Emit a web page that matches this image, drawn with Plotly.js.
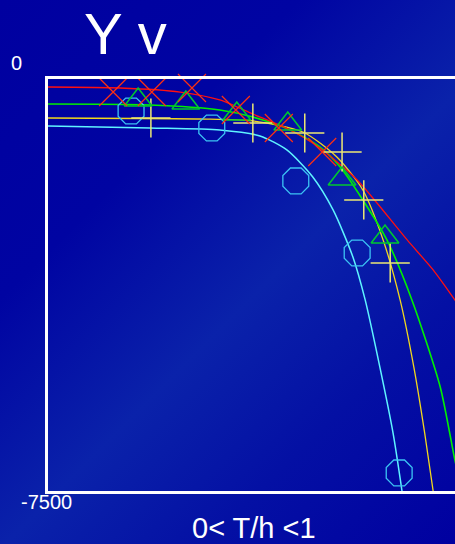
<!DOCTYPE html>
<html>
<head>
<meta charset="utf-8">
<script src="https://cdn.plot.ly/plotly-3.0.1.min.js"></script>
<style>
html, body { margin: 0; padding: 0; overflow: hidden; width: 455px; height: 544px;
  background: linear-gradient(135deg, #0000a0 0%, #0004a2 30%, #0a22aa 55%, #0410a4 75%, #0000a0 100%); }
#chart { width: 520px; height: 544px; }
</style>
</head>
<body>
<div id="chart"></div>
<script>
// ---- data (x = T/h, y = Y) ----
const redLineX   = [0, 0.153, 0.280, 0.364, 0.434, 0.513, 0.576, 0.655, 0.697, 0.761, 0.816, 0.862, 0.905];
const redLineY   = [-146, -164, -237, -382, -637, -928, -1256, -1838, -2257, -2930, -3476, -4022, -4532];
const redPtsX    = [0.138, 0.220, 0.305, 0.398, 0.489, 0.581];
const redPtsY    = [-237, -237, -164, -564, -892, -1329];

const greenLineX = [0, 0.216, 0.364, 0.434, 0.513, 0.576, 0.619, 0.667, 0.718, 0.771, 0.831, 0.862, 0.877];
const greenLineY = [-455, -473, -564, -692, -928, -1238, -1602, -2202, -2930, -4022, -5606, -6934, -7500];
const greenPtsX  = [0.191, 0.292, 0.400, 0.508, 0.623, 0.714];
const greenPtsY  = [-382, -437, -637, -819, -1820, -2876];

const yellowLineX = [0, 0.322, 0.434, 0.540, 0.612, 0.667, 0.710, 0.746, 0.775, 0.798, 0.816];
const yellowLineY = [-710, -728, -764, -965, -1420, -2020, -2930, -4022, -5242, -6443, -7500];
const yellowPtsX  = [0.218, 0.434, 0.544, 0.623, 0.669, 0.725];
const yellowPtsY  = [-710, -801, -983, -1329, -2202, -3349];

const cyanLineX  = [0, 0.216, 0.364, 0.449, 0.506, 0.561, 0.604, 0.646, 0.672, 0.703, 0.731, 0.750];
const cyanLineY  = [-855, -892, -928, -1037, -1292, -1784, -2384, -3240, -4022, -5242, -6443, -7500];
const cyanPtsX   = [0.176, 0.347, 0.525, 0.655, 0.744];
const cyanPtsY   = [-582, -892, -1856, -3167, -7171];

const yTickVals  = [0, -7500];
const yTickText  = ['0', '-7500'];
const titleText  = 'Y v';
const xTitleText = '0< T/h <1';

const FONT = 'Liberation Sans, Arial, sans-serif';

function line(x, y, color, w) {
  return {x: x, y: y, type: 'scatter', mode: 'lines', line: {color: color, width: w, shape: 'spline', smoothing: 0.7},
          hoverinfo: 'skip', showlegend: false};
}
function pts(x, y, symbol, color, size, w) {
  return {x: x, y: y, type: 'scatter', mode: 'markers', cliponaxis: false,
          marker: {symbol: symbol, size: size, color: color, line: {color: color, width: w}},
          hoverinfo: 'skip', showlegend: false};
}

const traces = [
  line(cyanLineX, cyanLineY, '#5ff4ff', 1.5),
  line(yellowLineX, yellowLineY, '#f2d81c', 1.3),
  line(greenLineX, greenLineY, '#00f000', 1.6),
  line(redLineX, redLineY, '#ff1010', 1.3),
  pts(cyanPtsX, cyanPtsY, 'octagon-open', '#3cc4f4', 28, 1.3),
  pts(yellowPtsX, yellowPtsY, 'cross-thin-open', '#ece874', 28, 1.5),
  pts(greenPtsX, greenPtsY, 'triangle-up-open', '#00c830', 24, 1.6),
  pts(redPtsX, redPtsY, 'x-thin-open', '#ff3010', 28, 1.2)
];

const tickShifts = [{xs: -39, ys: 16}, {xs: -29, ys: -11}];
const annotations = yTickVals.map((v, i) => ({
  x: 0, xref: 'paper', y: v, yref: 'y', xanchor: 'left', yanchor: 'middle',
  xshift: tickShifts[i].xs, yshift: tickShifts[i].ys, showarrow: false,
  text: yTickText[i], font: {family: FONT, size: 20, color: '#ffffff'}
}));
annotations.push({
  x: (254 - 48) / 472, xref: 'paper', y: (491 - 528) / 412, yref: 'paper', xanchor: 'center', yanchor: 'middle',
  showarrow: false, text: xTitleText, font: {family: FONT, size: 29, color: '#ffffff'}
});
annotations.push({
  x: (125 - 48) / 472, xref: 'paper', y: (491 - 33) / 412, yref: 'paper', xanchor: 'center', yanchor: 'middle',
  showarrow: false, text: titleText, font: {family: FONT, size: 58, color: '#ffffff'}
});

const layout = {
  width: 520, height: 544,
  margin: {l: 48, r: 0, t: 79, b: 53},
  paper_bgcolor: 'rgba(0,0,0,0)', plot_bgcolor: 'rgba(0,0,0,0)',
  xaxis: {range: [0, 1], showgrid: false, zeroline: false, showticklabels: false, ticks: '',
          showline: true, mirror: true, linecolor: '#ffffff', linewidth: 3},
  yaxis: {range: [-7500, 0], showgrid: false, zeroline: false, showticklabels: false, ticks: '',
          tickvals: yTickVals, ticktext: yTickText,
          showline: true, mirror: true, linecolor: '#ffffff', linewidth: 3},
  annotations: annotations,
  showlegend: false
};

Plotly.newPlot('chart', traces, layout, {staticPlot: true, displayModeBar: false});
</script>
</body>
</html>
